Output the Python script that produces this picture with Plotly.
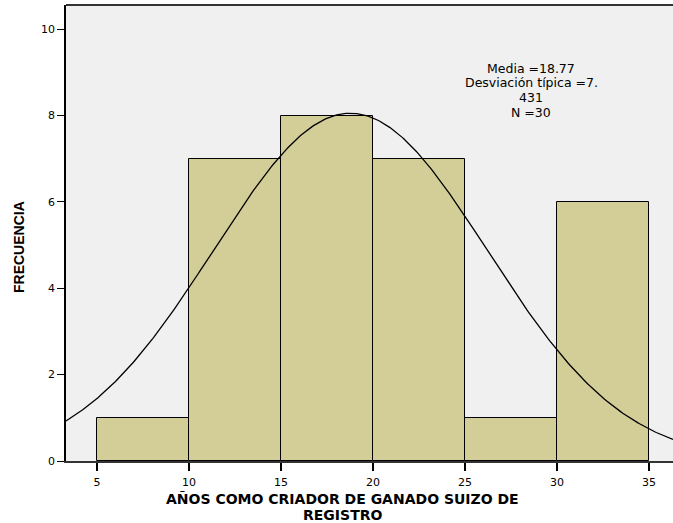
import numpy as np
import plotly.graph_objects as go

# Histogram of years as breeder (bins of 5 years)
bin_starts = [5, 10, 15, 20, 25, 30]
bin_width = 5
counts = [1, 7, 8, 7, 1, 6]
mean_val = 18.77
std_val = 7.431
n_total = 30
x_ticks = [5, 10, 15, 20, 25, 30, 35]
y_ticks = [0, 2, 4, 6, 8, 10]
stats_lines = ["Media =18.77", "Desviación típica =7.", "431", "N =30"]
x_title_lines = ["AÑOS COMO CRIADOR DE GANADO SUIZO DE", "REGISTRO"]
y_title = "FRECUENCIA"

x_range = [3.32, 36.3]
y_range = [0, 10.56]

# plot-area geometry in pixels (for placing titles)
L, R, T, B = 66, 673, 5, 461


def px(xp):
    return (xp - L) / (R - L)


def py(yp):
    return (B - yp) / (B - T)


fig = go.Figure()

fig.add_trace(go.Bar(
    x=[b + bin_width / 2 for b in bin_starts],
    y=counts,
    width=bin_width,
    marker=dict(color="#d3ce98", line=dict(color="#000000", width=1)),
    hoverinfo="skip",
))

# Normal curve scaled to counts
xs = np.linspace(x_range[0], x_range[1], 400)
ys = n_total * bin_width / (std_val * np.sqrt(2 * np.pi)) * np.exp(-0.5 * ((xs - mean_val) / std_val) ** 2)
fig.add_trace(go.Scatter(x=xs, y=ys, mode="lines", line=dict(color="#000000", width=1.3), hoverinfo="skip"))

# Statistics box, one line per annotation
for i, line in enumerate(stats_lines):
    fig.add_annotation(
        x=px(531), y=py(68 + 14.8 * i), xref="paper", yref="paper", showarrow=False,
        xanchor="center", yanchor="middle", text=line,
        font=dict(family="DejaVu Sans", size=12.5, color="#000000"),
    )

# Axis titles
for i, line in enumerate(x_title_lines):
    fig.add_annotation(
        x=px(342), y=py(498.5 + 16.2 * i), xref="paper", yref="paper", showarrow=False,
        xanchor="center", yanchor="middle", text="<b>%s</b>" % line,
        font=dict(family="DejaVu Sans", size=14, color="#000000"),
    )
fig.add_annotation(
    x=px(18.5), y=py(247.5), xref="paper", yref="paper", showarrow=False,
    xanchor="center", yanchor="middle", textangle=-90,
    text="<b>%s</b>" % y_title,
    font=dict(family="Liberation Sans", size=14, color="#000000"),
)

fig.update_layout(
    width=673, height=523,
    margin=dict(l=L, r=673 - R, t=T, b=523 - B),
    paper_bgcolor="#ffffff",
    plot_bgcolor="#f0f0f0",
    showlegend=False,
    bargap=0,
    font=dict(family="DejaVu Sans", color="#000000"),
    xaxis=dict(
        range=x_range, tickvals=x_ticks, ticks="outside", ticklen=8, tickcolor="#000000",
        tickwidth=1.5, ticklabelstandoff=2,
        showgrid=False, zeroline=False, showline=True, linecolor="#333333", linewidth=2,
        tickfont=dict(size=11),
    ),
    yaxis=dict(
        range=y_range, tickvals=y_ticks, ticks="outside", ticklen=7, tickcolor="#000000",
        showgrid=False, zeroline=False, showline=True, linecolor="#000000", linewidth=1.5,
        tickfont=dict(size=11),
    ),
)

# top frame line
fig.add_shape(type="line", xref="paper", yref="paper", x0=0, x1=1, y0=1, y1=1,
              line=dict(color="#333333", width=2))

fig.write_html("out.html")
